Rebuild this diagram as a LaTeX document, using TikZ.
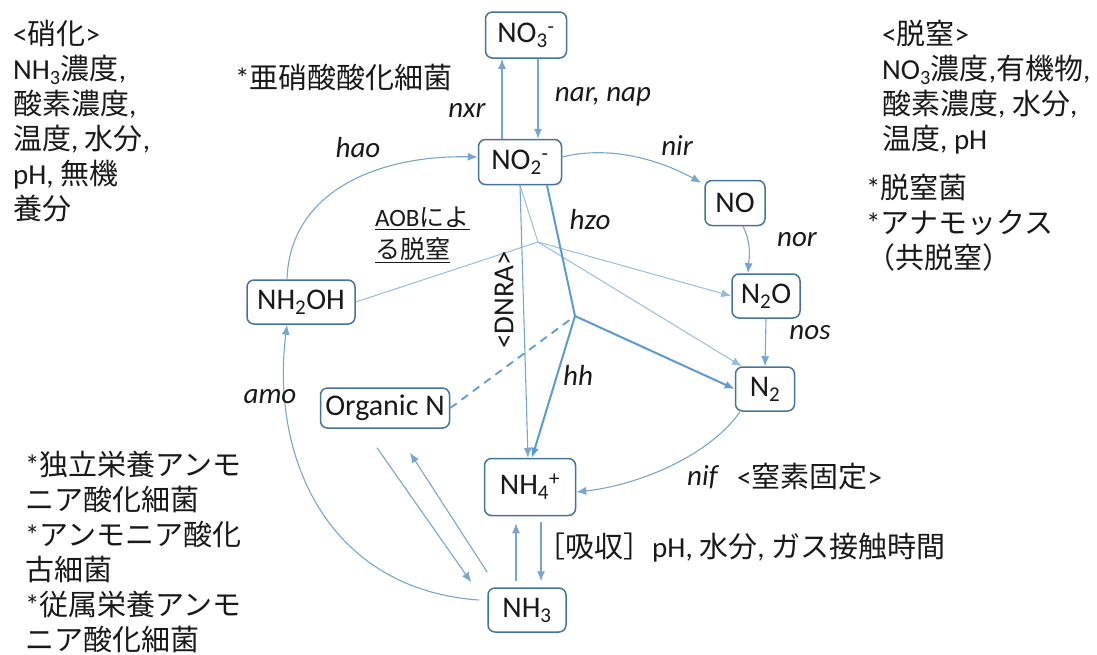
\documentclass[tikz,border=0pt]{standalone}
\usepackage{fontspec}
\setmainfont{Carlito}
\newfontfamily\jpf{Noto Sans CJK JP}
\usetikzlibrary{arrows.meta,calc}
\definecolor{boxc}{RGB}{70,114,160}
\definecolor{arrc}{RGB}{91,155,213}
\definecolor{thinc}{RGB}{120,164,210}
\definecolor{aobc}{RGB}{150,188,225}
\definecolor{txtc}{RGB}{25,25,25}
\tikzset{
  box/.style={draw=boxc, line width=1.5pt, rounded corners=7pt, fill=white, inner sep=2pt,
    font=\fontsize{30}{32}\selectfont, text=txtc},
  lab/.style={font=\fontsize{29}{31}\selectfont\itshape, text=txtc, inner sep=0pt},
  jtxt/.style={font=\fontsize{29}{35}\selectfont, align=left, text=txtc, inner sep=0pt},
  tip/.style={-{Latex[length=10pt,width=8pt]}},
  arr/.style={draw=thinc, line width=1.1pt, tip},
  aob/.style={draw=aobc, line width=1pt},
  heavy/.style={draw=arrc, line width=2pt},
}
\begin{document}
\begin{tikzpicture}[x=1pt,y=-1pt]
\useasboundingbox (0,0) rectangle (1097,654);
% nodes
\node[box, minimum width=81, minimum height=46] (no3) at (526,35) {NO\textsubscript{3}\textsuperscript{-}};
\node[box, minimum width=83, minimum height=45] (no2) at (520,162) {NO\textsubscript{2}\textsuperscript{-}};
\node[box, minimum width=60, minimum height=45] (no) at (735,203) {NO};
\node[box, minimum width=68, minimum height=44] (n2o) at (766,296) {N\textsubscript{2}O};
\node[box, minimum width=59, minimum height=44] (n2) at (765,389) {N\textsubscript{2}};
\node[box, minimum width=108, minimum height=44] (nh2oh) at (301,302) {NH\textsubscript{2}OH};
\node[box, minimum width=129, minimum height=40, inner sep=1pt] (orgn) at (385,408) {Organic N};
\node[box, minimum width=91, minimum height=57] (nh4) at (530,487) {NH\textsubscript{4}\textsuperscript{+}};
\node[box, minimum width=78, minimum height=44] (nh3) at (527,610) {NH\textsubscript{3}};
\coordinate (j1) at (538,242);
\coordinate (j2) at (575,316);
% NO3 / NO2
\draw[arr] ([xshift=-18pt]no2.north) -- ([xshift=-24pt]no3.south);
\draw[arr] ([xshift=12pt]no3.south) -- ([xshift=18pt]no2.north);
% nir, nor, nos
\draw[arr] ([yshift=5pt]no2.east) .. controls (610,145) and (660,160) .. ([xshift=-3pt,yshift=-3pt]no.north west);
\draw[arr] ([xshift=8pt]no.south) .. controls (752,245) and (749,258) .. ([xshift=-18pt]n2o.north);
\draw[arr] (n2o.south) -- (n2.north);
% hao, amo
\draw[arr] ([xshift=-14pt]nh2oh.north) .. controls (290,190) and (380,155) .. ([yshift=5pt]no2.west);
\draw[arr] ([xshift=-8pt,yshift=10pt]nh3.west) .. controls (330,590) and (270,460) .. ([xshift=-14pt]nh2oh.south);
% AOB denitrification
\draw[aob] (nh2oh.east) -- (j1);
\draw[aob] (no2.south) -- (j1);
\draw[aob, tip] (j1) -- (n2o.west);
\draw[aob, tip] (j1) -- ([xshift=7pt]n2.north west);
% DNRA
\draw[arr] (no2.south) -- ([xshift=-2pt]nh4.north);
% anammox
\draw[heavy] ([xshift=27pt]no2.south) -- (j2);
\draw[heavy, tip] (j2) -- (n2.west);
\draw[heavy, tip] (j2) -- ([xshift=2pt]nh4.north);
\draw[draw=arrc, line width=1.8pt, dash pattern=on 8pt off 6pt, shorten >=4pt] (orgn.east) -- (j2);
% Organic N <-> NH3
\draw[arr] ($(orgn.south)+(-8,19)$) -- ($(nh3.north west)+(-16,-5)$);
\draw[arr] ($(nh3.north west)+(0,-15)$) -- ($(orgn.south)+(25,24)$);
% NH3 <-> NH4
\coordinate (c1) at ([xshift=-14pt]nh4.south);
\coordinate (c2) at ([xshift=11pt]nh4.south);
\draw[arr, shorten <=6pt, shorten >=7pt] (c1 |- nh3.north) -- (c1);
\draw[arr, shorten <=6pt, shorten >=6pt] (c2) -- (c2 |- nh3.north);
% nif
\draw[arr] ([xshift=-25pt]n2.south) .. controls (710,455) and (640,485) .. ([yshift=-5pt]nh4.east);
% labels
\node[lab] (lnxr) at (467,110) {nxr};
\node[lab] (lnar) at (603,97) {nar, nap};
\node[lab] (lnir) at (677,146) {nir};
\node[lab] (lnor) at (797,240) {nor};
\node[lab] (lnos) at (810,333) {nos};
\node[lab] (lhao) at (358,148) {hao};
\node[lab] (lhzo) at (590,220) {hzo};
\node[lab] (lhh) at (578,375) {hh};
\node[lab] (lamo) at (270,397) {amo};
\node[lab, anchor=west] (lnif) at (687,477) {nif};
\node[jtxt, anchor=west] (tfix) at (737,477) {<{\jpf 窒素固定}>};
\node[font=\fontsize{29}{31}\selectfont, text=txtc, inner sep=0pt, rotate=90] (ldnra) at (504,300) {<DNRA>};
% text blocks
\node[jtxt, anchor=north west] (tnitr) at (13,20) {<{\jpf 硝化}>\\NH\textsubscript{3}{\jpf 濃度},\\{\jpf 酸素濃度},\\{\jpf 温度}, {\jpf 水分},\\pH, {\jpf 無機}\\{\jpf 養分}};
\node[jtxt, anchor=west] (tno2b) at (235,77) {*{\jpf 亜硝酸酸化細菌}};
\node[jtxt, anchor=north west] (tden) at (882,20) {<{\jpf 脱窒}>\\NO\textsubscript{3}{\jpf 濃度},{\jpf 有機物},\\{\jpf 酸素濃度}, {\jpf 水分},\\{\jpf 温度}, pH};
\node[jtxt, anchor=north west] (tbac) at (866,174) {*{\jpf 脱窒菌}\\*{\jpf アナモックス}\\{\jpf （共脱窒）}};
\node[jtxt, anchor=north west] (taob) at (375,207) [font=\fontsize{25}{32}\selectfont] {\underline{AOB{\jpf によ}}\\\underline{\jpf る脱窒}};
\node[jtxt, anchor=north west] (tamo) at (25,451) {*{\jpf 独立栄養アンモ}\\{\jpf ニア酸化細菌}\\*{\jpf アンモニア酸化}\\{\jpf 古細菌}\\*{\jpf 従属栄養アンモ}\\{\jpf ニア酸化細菌}};
\node[jtxt, anchor=west] (tabs) at (536,548) {{\jpf ［吸収］}pH, {\jpf 水分}, {\jpf ガス接触時間}};
\end{tikzpicture}
\end{document}
